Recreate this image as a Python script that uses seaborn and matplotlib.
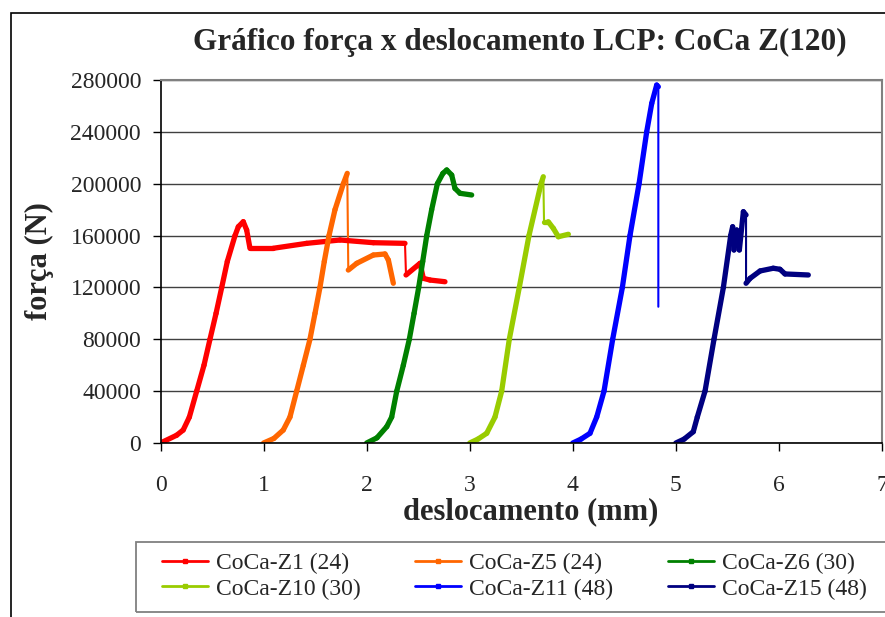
import numpy as np
import pandas as pd
import seaborn as sns
import matplotlib.pyplot as plt
from matplotlib.lines import Line2D
from matplotlib.patches import Rectangle
from matplotlib.ticker import StrMethodFormatter

# curves (deslocamento mm, força N)
z1_x = [0.0, 0.157, 0.22, 0.28, 0.351, 0.422, 0.48, 0.539, 0.594, 0.648, 0.723, 0.755, 0.803, 0.836, 0.868,
        1.094, 1.418, 1.742, 2.065, 2.372, 2.382, 2.518, 2.55, 2.615, 2.76]
z1_y = [0, 6000, 10000, 20000, 40000, 60000, 80000, 100000, 120000, 140000, 160000, 166800, 170700, 164300, 150200,
        150200, 154000, 156600, 154500, 154000, 129600, 138600, 127000, 125700, 124400]

z5_x = [1.0, 1.10, 1.191, 1.256, 1.321, 1.386, 1.45, 1.499, 1.547, 1.589, 1.635, 1.693, 1.774, 1.812,
        1.822, 1.904, 2.065, 2.178, 2.211, 2.259]
z5_y = [0, 3500, 10000, 20000, 40000, 60000, 80000, 100000, 120000, 140000, 160000, 180000, 200000, 208000,
        133400, 138600, 145000, 145800, 141100, 123200]

z6_x = [2.0, 2.10, 2.195, 2.243, 2.292, 2.356, 2.414, 2.46, 2.505, 2.544, 2.583, 2.631, 2.686, 2.74, 2.777,
        2.825, 2.857, 2.906, 3.019]
z6_y = [0, 4000, 12600, 20000, 40000, 60000, 80000, 100000, 120000, 140000, 160000, 180000, 200000, 208000, 210600,
        206700, 196400, 192600, 191300]

z10_x = [3.0, 3.08, 3.165, 3.245, 3.31, 3.384, 3.481, 3.575, 3.692, 3.714, 3.721, 3.762, 3.811, 3.86, 3.957]
z10_y = [0, 3000, 7500, 20000, 40000, 80000, 120000, 160000, 200000, 205400, 170700, 170700, 165600, 159100, 161000]

z11_x = [4.0, 4.08, 4.167, 4.232, 4.303, 4.387, 4.481, 4.555, 4.643, 4.717, 4.766, 4.814, 4.83, 4.83]
z11_y = [0, 3000, 7500, 20000, 40000, 80000, 120000, 160000, 200000, 240000, 262000, 276100, 274800, 105100]

z15_x = [5.0, 5.08, 5.169, 5.208, 5.283, 5.37, 5.461, 5.532, 5.551, 5.564, 5.59, 5.616, 5.655, 5.681,
         5.681, 5.72, 5.817, 5.945, 6.01, 6.059, 6.285]
z15_y = [0, 3000, 8700, 20000, 40000, 80000, 120000, 160000, 166800, 148900, 164300, 148900, 178400, 175900,
         123200, 127000, 132700, 134800, 134000, 130400, 129600]

labels = ["CoCa-Z1 (24)", "CoCa-Z5 (24)", "CoCa-Z6 (30)",
          "CoCa-Z10 (30)", "CoCa-Z11 (48)", "CoCa-Z15 (48)"]
colors = ["#FF0000", "#FF6600", "#008000", "#99CC00", "#0000FF", "#000080"]
xs = [z1_x, z5_x, z6_x, z10_x, z11_x, z15_x]
ys = [z1_y, z5_y, z6_y, z10_y, z11_y, z15_y]

df = pd.concat([pd.DataFrame({"x": x, "y": y, "serie": lab})
                for x, y, lab in zip(xs, ys, labels)], ignore_index=True)

sns.set_style("white")
plt.rcParams["font.family"] = ["Liberation Serif", "DejaVu Serif"]

fig = plt.figure(figsize=(8.85, 6.17), dpi=100)
ax = fig.add_axes([160.5 / 885, 1 - 443 / 617, (882 - 160.5) / 885, (443 - 80) / 617])

sns.lineplot(data=df, x="x", y="y", hue="serie", palette=dict(zip(labels, colors)),
             sort=False, estimator=None, lw=1.5, legend=False, ax=ax)

# thicker where the data is dense (not on the sudden drops)
for x, y, c in zip(xs, ys, colors):
    x = np.array(x); y = np.array(y, dtype=float)
    for i in range(len(x) - 1):
        drop = (x[i + 1] - x[i]) < 0.03 and abs(y[i + 1] - y[i]) > 20000
        if not drop:
            ax.plot(x[i:i + 2], y[i:i + 2], color=c, lw=3.8, solid_capstyle="round")

ax.set_xlim(0, 7)
ax.set_ylim(0, 280000)
ax.set_xticks(range(0, 8))
ax.set_yticks(range(0, 280001, 40000))
ax.yaxis.set_major_formatter(StrMethodFormatter("{x:.0f}"))
ax.grid(axis="y", color="#404040", lw=1)
ax.grid(axis="x", visible=False)
ax.set_xlabel("")
ax.set_ylabel("")
for s in ["left", "bottom"]:
    ax.spines[s].set_color("black")
    ax.spines[s].set_linewidth(1.2)
for s in ["top", "right"]:
    ax.spines[s].set_color("#808080")
    ax.spines[s].set_linewidth(1.5)
ax.tick_params(axis="both", direction="out", length=6, width=1, color="black",
               labelsize=17, left=True, bottom=True)
ax.tick_params(axis="x", pad=17)
ax.tick_params(axis="y", pad=8)

fig.text(520 / 885, 1 - 42 / 617, "Gráfico força x deslocamento LCP: CoCa Z(120)",
         ha="center", va="center", fontsize=22.5, fontweight="bold")
fig.text(531 / 885, 1 - 512 / 617, "deslocamento (mm)",
         ha="center", va="center", fontsize=22, fontweight="bold")
fig.text(39 / 885, 1 - 261 / 617, "força (N)", rotation=90,
         ha="center", va="center", fontsize=22, fontweight="bold")

# legend filled row by row like the original
order = [0, 3, 1, 4, 2, 5]
handles = [Line2D([], [], color=colors[i], lw=2, marker="s", markersize=2.5) for i in order]
fig.legend(handles, [labels[i] for i in order], ncol=3, loc="center left",
           bbox_to_anchor=(161.5 / 885, 1 - 576.3 / 617),
           fontsize=17, frameon=False, borderpad=0, borderaxespad=0,
           handlelength=1.95, handletextpad=0.35, labelspacing=0.15,
           columnspacing=2.3)
fig.add_artist(Rectangle((136 / 885, 1 - 611.5 / 617), 800 / 885, 70 / 617,
                         transform=fig.transFigure, fill=False,
                         edgecolor="#808080", lw=1.3))

fig.add_artist(Rectangle((11 / 885, -0.1), 1.2, 1.1 - 13 / 617, transform=fig.transFigure,
                         fill=False, edgecolor="black", lw=1.2))

fig.savefig("out.png", dpi=100, facecolor="white")
